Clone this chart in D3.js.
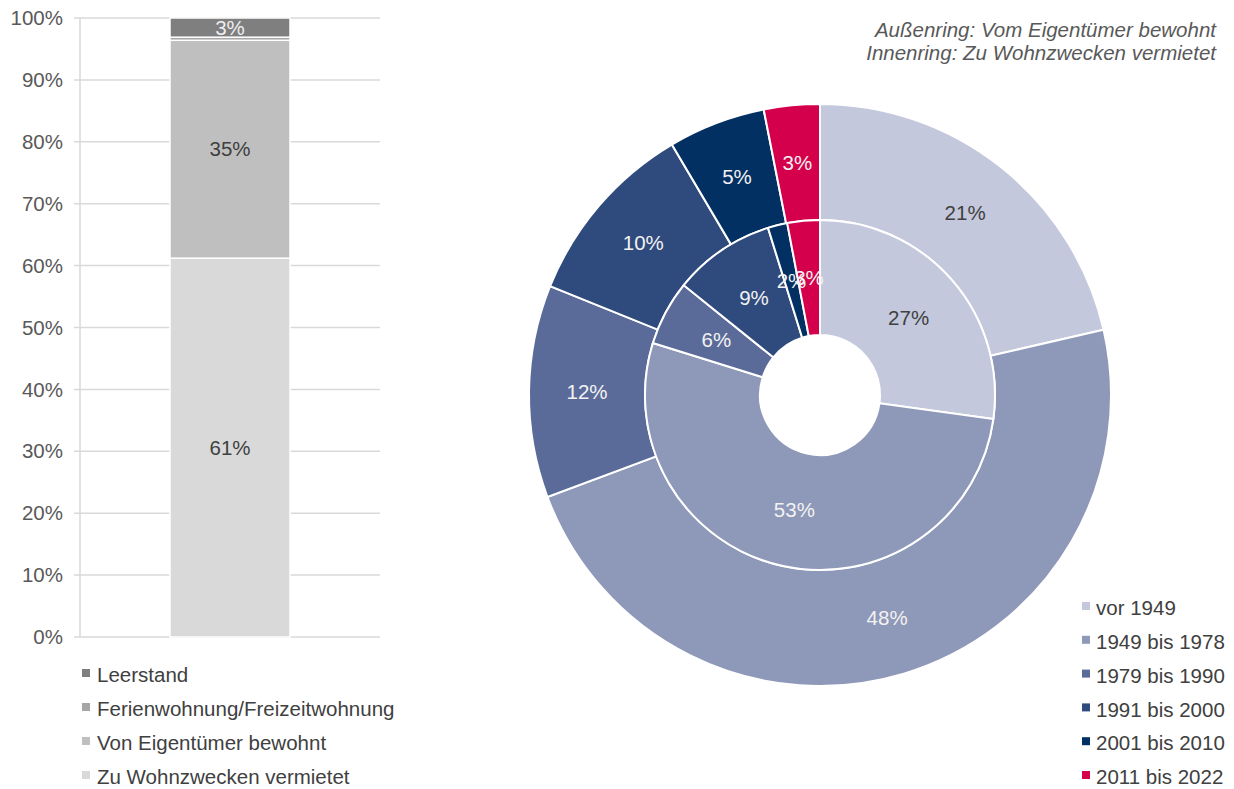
<!DOCTYPE html>
<html>
<head>
<meta charset="utf-8">
<script src="https://cdn.jsdelivr.net/npm/d3@7"></script>
<style>
  body { margin: 0; background: #fff; }
  svg { font-family: "Liberation Sans", Arial, sans-serif; }
</style>
</head>
<body>
<svg id="chart" width="1234" height="789"></svg>
<script>
// stacked bar (left)
var barKeys = ["Zu Wohnzwecken vermietet", "Von Eigentümer bewohnt", "Ferienwohnung/Freizeitwohnung", "Leerstand"];
var barValues = [61.2, 35.2, 0.5, 3.1];
var barColors = ["#d9d9d9", "#bfbfbf", "#a6a6a6", "#7f7f7f"];
var yTicks = [0, 10, 20, 30, 40, 50, 60, 70, 80, 90, 100];

// donut (right)
var periods = ["vor 1949", "1949 bis 1978", "1979 bis 1990", "1991 bis 2000", "2001 bis 2010", "2011 bis 2022"];
var outerValues = [21.4, 47.9, 11.8, 10.4, 5.4, 3.1];   // Vom Eigentümer bewohnt
var innerValues = [27.2, 52.6, 6.0, 9.4, 1.8, 3.0];     // Zu Wohnzwecken vermietet
var periodColors = ["#c4c8dc", "#8e98b8", "#5a6b9a", "#2f4a7c", "#033062", "#d4004b"];

var svg = d3.select("#chart");
var textDark = "#404040";
var fs = 20.5;

// ---------- bar chart ----------
var x = d3.scaleBand().domain(["all"]).range([80, 380]).paddingInner(0.6).paddingOuter(0.3);
var y = d3.scaleLinear().domain([0, 100]).range([637, 18]);

var gBar = svg.append("g");

gBar.append("g")
  .selectAll("line")
  .data(yTicks)
  .enter().append("line")
    .attr("x1", 74)
    .attr("x2", 380)
    .attr("y1", function(d) { return y(d); })
    .attr("y2", function(d) { return y(d); })
    .attr("stroke", "#d9d9d9")
    .attr("stroke-width", 1.5);

gBar.append("line")
  .attr("x1", 80).attr("x2", 80)
  .attr("y1", y(100)).attr("y2", y(0))
  .attr("stroke", "#d9d9d9").attr("stroke-width", 1.5);

gBar.append("g")
  .selectAll("text")
  .data(yTicks)
  .enter().append("text")
    .attr("x", 63)
    .attr("y", function(d) { return y(d); })
    .attr("dy", "0.35em")
    .attr("text-anchor", "end")
    .attr("font-size", fs)
    .attr("fill", "#595959")
    .text(function(d) { return d + "%"; });

var stackData = [];
var cum = 0;
barValues.forEach(function(v, i) {
  stackData.push({ key: barKeys[i], v0: cum, v1: cum + v, value: v, color: barColors[i] });
  cum += v;
});

var bw = 120;
var bx = x("all") + x.bandwidth() / 2 - bw / 2;

gBar.append("g")
  .selectAll("rect")
  .data(stackData)
  .enter().append("rect")
    .attr("x", bx)
    .attr("width", bw)
    .attr("y", function(d) { return y(d.v1); })
    .attr("height", function(d) { return y(d.v0) - y(d.v1); })
    .attr("fill", function(d) { return d.color; })
    .attr("stroke", "#fff")
    .attr("stroke-width", 1.5);

gBar.append("g")
  .selectAll("text")
  .data(stackData.filter(function(d) { return d.value >= 1; }))
  .enter().append("text")
    .attr("x", bx + bw / 2)
    .attr("y", function(d) { return y((d.v0 + d.v1) / 2); })
    .attr("dy", "0.35em")
    .attr("text-anchor", "middle")
    .attr("font-size", fs)
    .attr("fill", function(d) { return d.key === "Leerstand" ? "#eeeeee" : textDark; })
    .text(function(d) { return Math.round(d.value) + "%"; });

var barLegend = svg.append("g")
  .selectAll("g")
  .data(barKeys.slice().reverse())
  .enter().append("g")
    .attr("transform", function(d, i) { return "translate(82," + (675 + i * 34) + ")"; });

barLegend.append("rect")
  .attr("x", 0).attr("y", -6)
  .attr("width", 8).attr("height", 8)
  .attr("fill", function(d) { return barColors[barKeys.indexOf(d)]; });

barLegend.append("text")
  .attr("x", 15)
  .attr("dy", "0.35em")
  .attr("font-size", fs)
  .attr("fill", textDark)
  .text(function(d) { return d; });

// ---------- donut ----------
var cx = 820, cy = 395;
var rHole = 60, rMid = 175, rOuter = 291;

var pie = d3.pie().sort(null).value(function(d) { return d; });
var color = d3.scaleOrdinal().domain(d3.range(periods.length)).range(periodColors);

var gPie = svg.append("g").attr("transform", "translate(" + cx + "," + cy + ")");

function ring(values, r0, r1) {
  var arc = d3.arc().innerRadius(r0).outerRadius(r1);
  var arcs = pie(values);
  var g = gPie.append("g");
  g.selectAll("path")
    .data(arcs)
    .enter().append("path")
      .attr("d", arc)
      .attr("fill", function(d, i) { return color(i); })
      .attr("stroke", "#fff")
      .attr("stroke-width", 2);
  g.selectAll("text")
    .data(arcs)
    .enter().append("text")
      .attr("transform", function(d) { return "translate(" + arc.centroid(d) + ")"; })
      .attr("dy", "0.35em")
      .attr("text-anchor", "middle")
      .attr("font-size", fs)
      .attr("fill", function(d, i) { return i === 0 ? textDark : "#f2f2f2"; })
      .text(function(d) { return Math.round(d.data) + "%"; });
}

ring(outerValues, rMid, rOuter);
ring(innerValues, rHole, rMid);

// note top right
svg.append("g")
  .selectAll("text")
  .data(["Außenring: Vom Eigentümer bewohnt", "Innenring: Zu Wohnzwecken vermietet"])
  .enter().append("text")
    .attr("x", 1216)
    .attr("y", function(d, i) { return 30 + i * 23; })
    .attr("dy", "0.35em")
    .attr("text-anchor", "end")
    .attr("font-size", fs)
    .attr("font-style", "italic")
    .attr("fill", "#595959")
    .text(function(d) { return d; });

var pieLegend = svg.append("g")
  .selectAll("g")
  .data(periods)
  .enter().append("g")
    .attr("transform", function(d, i) { return "translate(1082," + (608 + i * 33.8) + ")"; });

pieLegend.append("rect")
  .attr("x", 0).attr("y", -6)
  .attr("width", 8).attr("height", 8)
  .attr("fill", function(d, i) { return color(i); });

pieLegend.append("text")
  .attr("x", 14)
  .attr("dy", "0.35em")
  .attr("font-size", fs)
  .attr("fill", textDark)
  .text(function(d) { return d; });
</script>
</body>
</html>
